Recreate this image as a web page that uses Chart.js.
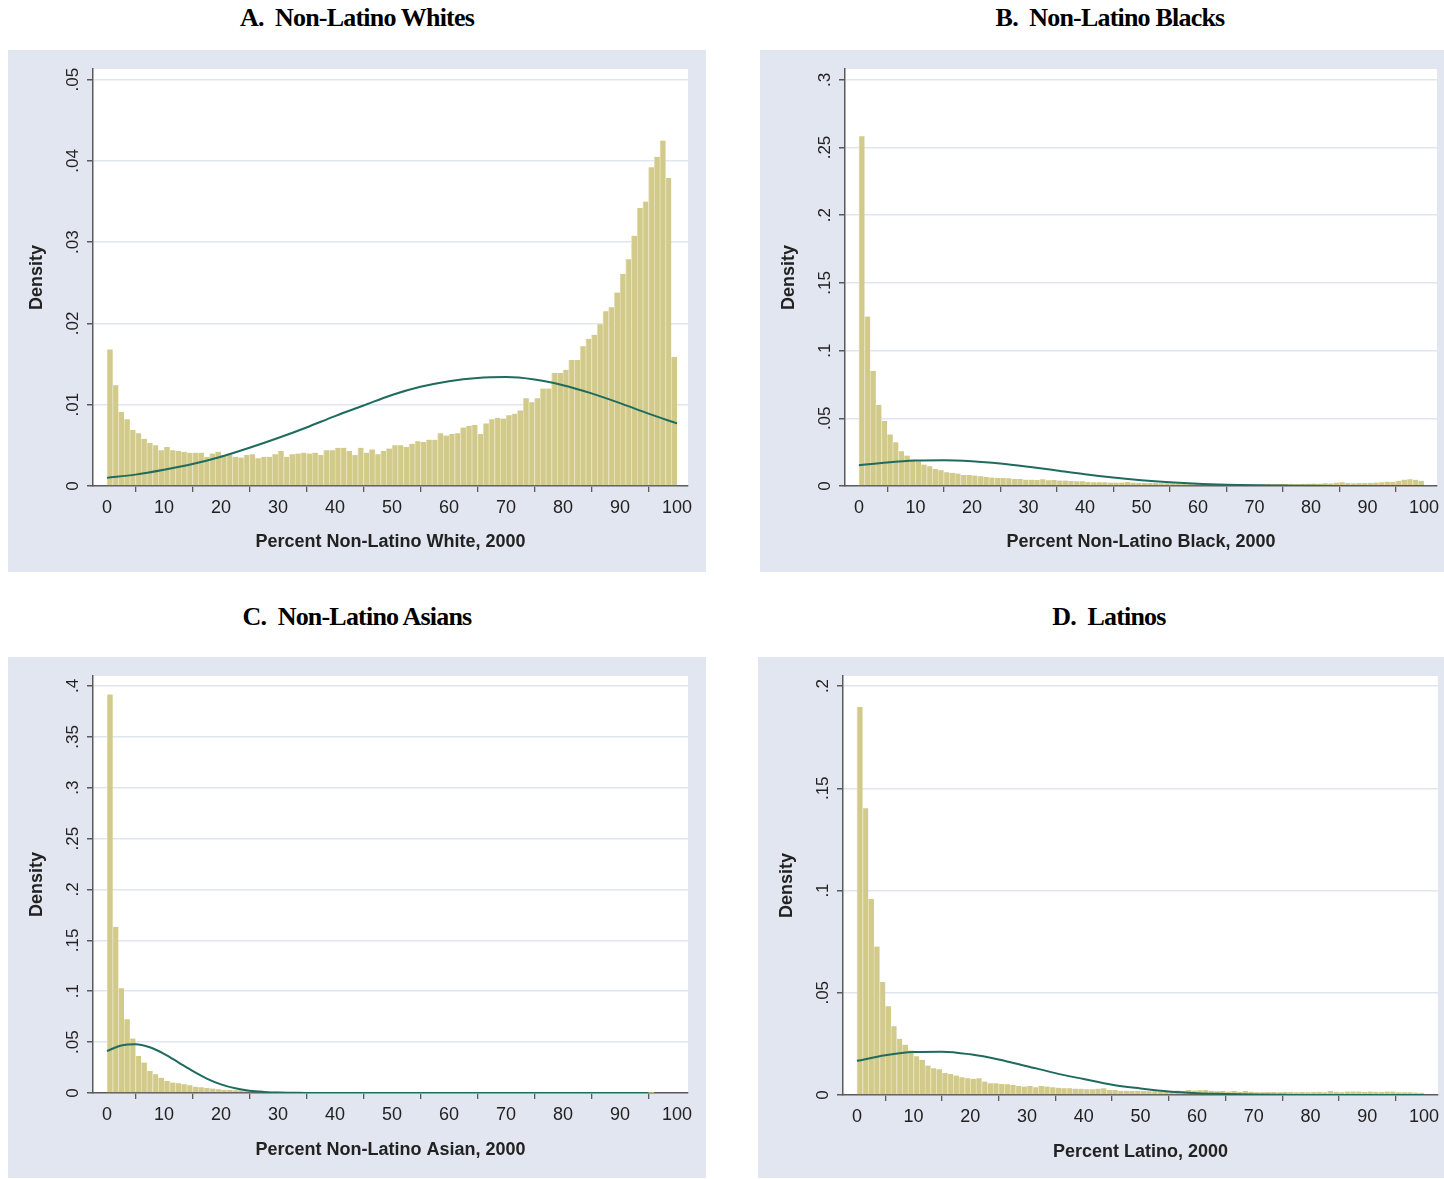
<!DOCTYPE html>
<html>
<head>
<meta charset="utf-8">
<script src="https://cdn.jsdelivr.net/npm/chart.js@4.4.1/dist/chart.umd.min.js"></script>
<style>
  html, body { margin: 0; padding: 0; background: #ffffff; }
  body { width: 1444px; height: 1179px; position: relative; overflow: hidden; }
  .panel { position: absolute; background: #e1e6f0; }
  .ptitle { position: absolute; font-family: "Liberation Serif", "Times New Roman", serif; font-weight: bold;
            font-size: 26px; letter-spacing: -0.8px; white-space: pre; transform: translateX(-50%); color: #000;
            line-height: 30px; }
</style>
</head>
<body>
<div class="ptitle" style="left:357px; top:3px;">A.  Non-Latino Whites</div>
<div class="ptitle" style="left:1110px; top:3px;">B.  Non-Latino Blacks</div>
<div class="ptitle" style="left:357px; top:602px;">C.  Non-Latino Asians</div>
<div class="ptitle" style="left:1109px; top:602px;">D.  Latinos</div>

<div class="panel" style="left:8px; top:50px; width:698px; height:522px;"><canvas id="cA"></canvas></div>
<div class="panel" style="left:760px; top:50px; width:684px; height:522px;"><canvas id="cB"></canvas></div>
<div class="panel" style="left:8px; top:657px; width:698px; height:521px;"><canvas id="cC"></canvas></div>
<div class="panel" style="left:758px; top:657px; width:686px; height:521px;"><canvas id="cD"></canvas></div>

<script>
// ---------- DATA ----------
// Histogram bins: 1 percentage point wide, bin i covers [i, i+1)
const binStarts = Array.from({length: 100}, (_, i) => i);

const whiteDensity = [
  0.0168, 0.0124, 0.0091, 0.0082, 0.0069, 0.0065, 0.0058, 0.0053, 0.0050, 0.0044,
  0.0048, 0.0044, 0.0043, 0.0042, 0.0041, 0.0041, 0.0041, 0.0036, 0.0040, 0.0042,
  0.0038, 0.0039, 0.0036, 0.0035, 0.0038, 0.0039, 0.0034, 0.0036, 0.0036, 0.0039,
  0.0043, 0.0036, 0.0039, 0.0040, 0.0041, 0.0040, 0.0041, 0.0038, 0.0044, 0.0044,
  0.0047, 0.0047, 0.0043, 0.0038, 0.0047, 0.0041, 0.0045, 0.0039, 0.0043, 0.0046,
  0.0050, 0.0050, 0.0048, 0.0052, 0.0055, 0.0054, 0.0057, 0.0057, 0.0065, 0.0062,
  0.0064, 0.0065, 0.0072, 0.0074, 0.0075, 0.0064, 0.0077, 0.0082, 0.0084, 0.0083,
  0.0087, 0.0089, 0.0093, 0.0108, 0.0103, 0.0108, 0.0120, 0.0120, 0.0139, 0.0139,
  0.0143, 0.0155, 0.0155, 0.0172, 0.0181, 0.0186, 0.0199, 0.0215, 0.0220, 0.0238,
  0.0261, 0.0279, 0.0308, 0.0342, 0.0350, 0.0392, 0.0405, 0.0425, 0.0379, 0.0159
];

const blackDensity = [
  0.2584, 0.1252, 0.0851, 0.0599, 0.0480, 0.0381, 0.0324, 0.0257, 0.0225, 0.0196,
  0.0183, 0.0158, 0.0146, 0.0126, 0.0116, 0.0101, 0.0097, 0.0092, 0.0082, 0.0082,
  0.0077, 0.0072, 0.0067, 0.0062, 0.0059, 0.0059, 0.0057, 0.0052, 0.0052, 0.0047,
  0.0047, 0.0045, 0.0050, 0.0042, 0.0044, 0.0040, 0.0040, 0.0037, 0.0035, 0.0035,
  0.0030, 0.0028, 0.0027, 0.0027, 0.0026, 0.0026, 0.0025, 0.0030, 0.0025, 0.0024,
  0.0023, 0.0022, 0.0022, 0.0021, 0.0020, 0.0020, 0.0019, 0.0019, 0.0018, 0.0018,
  0.0017, 0.0017, 0.0016, 0.0016, 0.0016, 0.0015, 0.0015, 0.0015, 0.0015, 0.0014,
  0.0014, 0.0014, 0.0015, 0.0015, 0.0014, 0.0015, 0.0016, 0.0015, 0.0016, 0.0017,
  0.0018, 0.0017, 0.0020, 0.0019, 0.0026, 0.0028, 0.0022, 0.0021, 0.0022, 0.0023,
  0.0024, 0.0025, 0.0027, 0.0032, 0.0030, 0.0038, 0.0047, 0.0050, 0.0046, 0.0038
];

const asianDensity = [
  0.3917, 0.1634, 0.1030, 0.0725, 0.0535, 0.0364, 0.0299, 0.0217, 0.0184, 0.0151,
  0.0118, 0.0102, 0.0095, 0.0085, 0.0075, 0.0062, 0.0056, 0.0049, 0.0043, 0.0036,
  0.0033, 0.0030, 0.0028, 0.0026, 0.0023, 0.0021, 0.0019, 0.0017, 0.0015, 0.0014,
  0.0013, 0.0012, 0.0011, 0.0010, 0.0009, 0.0009, 0.0008, 0.0007, 0.0007, 0.0006,
  0.0006, 0.0005, 0.0005, 0.0005, 0.0005, 0.0004, 0.0004, 0.0004, 0.0004, 0.0004,
  0.0003, 0.0003, 0.0003, 0.0003, 0.0003, 0.0003, 0.0003, 0.0003, 0.0003, 0.0003,
  0.0002, 0.0002, 0.0002, 0.0002, 0.0002, 0.0002, 0.0002, 0.0002, 0.0002, 0.0002,
  0.0002, 0.0002, 0.0002, 0.0002, 0.0002, 0.0001, 0.0001, 0.0001, 0.0001, 0.0001,
  0.0001, 0.0001, 0.0001, 0.0001, 0.0001, 0.0001, 0.0001, 0.0001, 0.0001, 0.0001,
  0.0001, 0.0001, 0.0001, 0.0001, 0.0001, 0.0001, 0, 0, 0, 0
];

const latinoDensity = [
  0.1897, 0.1402, 0.0959, 0.0726, 0.0552, 0.0434, 0.0336, 0.0275, 0.0246, 0.0218,
  0.0189, 0.0172, 0.0144, 0.0131, 0.0126, 0.0107, 0.0103, 0.0095, 0.0087, 0.0082,
  0.0079, 0.0082, 0.0066, 0.0057, 0.0057, 0.0054, 0.0052, 0.0049, 0.0044, 0.0041,
  0.0044, 0.0038, 0.0044, 0.0041, 0.0038, 0.0036, 0.0033, 0.0033, 0.0031, 0.0031,
  0.0028, 0.0028, 0.0031, 0.0033, 0.0025, 0.0025, 0.0021, 0.0021, 0.0020, 0.0020,
  0.0019, 0.0018, 0.0018, 0.0017, 0.0018, 0.0017, 0.0022, 0.0020, 0.0024, 0.0022,
  0.0023, 0.0024, 0.0021, 0.0018, 0.0020, 0.0017, 0.0019, 0.0016, 0.0020, 0.0016,
  0.0014, 0.0014, 0.0015, 0.0015, 0.0014, 0.0015, 0.0015, 0.0014, 0.0015, 0.0014,
  0.0015, 0.0016, 0.0014, 0.0020, 0.0016, 0.0014, 0.0017, 0.0017, 0.0017, 0.0015,
  0.0017, 0.0016, 0.0015, 0.0017, 0.0017, 0.0013, 0.0014, 0.0013, 0.0012, 0.0011
];

// Overlaid normal density curves
const curveX5 = [0, 5, 10, 15, 20, 25, 30, 35, 40, 45, 50, 55, 60, 65, 70, 75, 80, 85, 90, 95, 100];
const whiteCurve = [0.0010, 0.0014, 0.0020, 0.0027, 0.0036, 0.0047, 0.0059, 0.0072, 0.0086, 0.0099, 0.0112,
                    0.0122, 0.0129, 0.0133, 0.0134, 0.0131, 0.0124, 0.0114, 0.0102, 0.0089, 0.0077];
const blackCurve = [0.0153, 0.0174, 0.0188, 0.0191, 0.0183, 0.0166, 0.0142, 0.0115, 0.0087, 0.0063, 0.0043,
                    0.0028, 0.0017, 0.0010, 0.0005, 0.0003, 0.0001, 0.0000, 0.0000, 0.0000, 0.0000];
const latinoCurve = [0.0167, 0.0194, 0.0210, 0.0212, 0.0199, 0.0174, 0.0141, 0.0107, 0.0078, 0.0050, 0.0032,
                     0.0017, 0.0009, 0.0005, 0.0002, 0.0001, 0.0000, 0.0000, 0.0000, 0.0000, 0.0000];
const asianCurveX = [0, 2.5, 5, 7.5, 10, 12.5, 15, 17.5, 20, 22.5, 25, 27.5, 30, 35, 40, 45, 50, 55, 60, 65, 70, 75, 80, 85, 90, 95];
const asianCurve  = [0.0413, 0.0466, 0.0478, 0.0449, 0.0385, 0.0302, 0.0217, 0.0142, 0.0085, 0.0046, 0.0023, 0.0011, 0.0004,
                     0.0001, 0, 0, 0, 0, 0, 0, 0, 0, 0, 0, 0, 0];

// Tick values and labels
const xTickValues = [0, 10, 20, 30, 40, 50, 60, 70, 80, 90, 100];
const xTickLabels = ['0', '10', '20', '30', '40', '50', '60', '70', '80', '90', '100'];
const yTicksA = [0, 0.01, 0.02, 0.03, 0.04, 0.05];
const yLabelsA = ['0', '.01', '.02', '.03', '.04', '.05'];
const yTicksB = [0, 0.05, 0.1, 0.15, 0.2, 0.25, 0.3];
const yLabelsB = ['0', '.05', '.1', '.15', '.2', '.25', '.3'];
const yTicksC = [0, 0.05, 0.1, 0.15, 0.2, 0.25, 0.3, 0.35, 0.4];
const yLabelsC = ['0', '.05', '.1', '.15', '.2', '.25', '.3', '.35', '.4'];
const yTicksD = [0, 0.05, 0.1, 0.15, 0.2];
const yLabelsD = ['0', '.05', '.1', '.15', '.2'];

const xTitles = ['Percent Non-Latino White, 2000', 'Percent Non-Latino Black, 2000',
                 'Percent Non-Latino Asian, 2000', 'Percent Latino, 2000'];

// ---------- STYLE / BUILD ----------
const BAR_FILL = '#d1ca8a';
const BAR_EDGE = '#e6e2b9';
const LINE_COL = '#1f6b5e';
const GRID_COL = '#e0e5ef';
const AXIS_COL = '#5a5a5a';
const SANS = '"Liberation Sans", Arial, sans-serif';

const whitePlotBg = {
  id: 'whitePlotBg',
  beforeDraw(chart) {
    const a = chart.chartArea, ctx = chart.ctx;
    ctx.save();
    ctx.fillStyle = '#ffffff';
    ctx.fillRect(a.left, a.top, a.right - a.left, a.bottom - a.top);
    ctx.restore();
  }
};

function makePanel(id, o) {
  const bars = binStarts.map((b, i) => ({ x: b + 0.5, y: o.hist[i] }));
  const line = o.curveX.map((x, i) => ({ x: x, y: o.curve[i] }));
  new Chart(document.getElementById(id), {
    data: {
      datasets: [
        { type: 'line', data: line, borderColor: LINE_COL, borderWidth: 2, pointRadius: 0,
          cubicInterpolationMode: 'monotone', fill: false, order: 0 },
        { type: 'bar', data: bars, backgroundColor: BAR_FILL, borderColor: BAR_EDGE,
          borderWidth: { left: 1, top: 0, right: 0, bottom: 0 }, borderSkipped: false,
          barPercentage: 1, categoryPercentage: 1, order: 1 }
      ]
    },
    options: {
      responsive: true, maintainAspectRatio: false, animation: false,
      layout: { padding: { left: 0, top: o.top, right: o.right, bottom: 0 } },
      plugins: { legend: { display: false }, tooltip: { enabled: false } },
      scales: {
        x: {
          type: 'linear', min: o.xmin, max: o.xmax, offset: false,
          afterBuildTicks: s => { s.ticks = xTickValues.map(v => ({ value: v })); },
          afterFit: s => { s.height = o.xh; },
          ticks: { autoSkip: false, maxRotation: 0, minRotation: 0, padding: 5, color: '#222',
                   font: { family: SANS, size: 18 }, callback: (v, i) => xTickLabels[i] },
          grid: { display: true, drawOnChartArea: false, drawTicks: true, tickLength: 6,
                  tickColor: AXIS_COL, lineWidth: 1.3 },
          border: { display: true, color: AXIS_COL, width: 1.5 },
          title: { display: true, text: o.xtitle, color: '#222',
                   font: { family: SANS, size: 18, weight: 'bold' }, padding: { top: 0, bottom: o.tpad } }
        },
        y: {
          type: 'linear', min: 0, max: o.ymax,
          afterBuildTicks: s => { s.ticks = o.yTicks.map(v => ({ value: v })); },
          afterFit: s => { s.width = 85; },
          ticks: { minRotation: 90, maxRotation: 90, crossAlign: 'center', padding: 2, color: '#222',
                   font: { family: SANS, size: 17 }, callback: (v, i) => o.yLabels[i] },
          grid: { color: GRID_COL, lineWidth: 1.5, drawTicks: true, tickLength: 6, tickColor: AXIS_COL },
          border: { display: true, color: AXIS_COL, width: 1.5 },
          title: { display: true, text: 'Density', color: '#222',
                   font: { family: SANS, size: 18, weight: 'bold' }, padding: { top: 18, bottom: 0 } }
        }
      }
    },
    plugins: [whitePlotBg]
  });
}

makePanel('cA', { hist: whiteDensity, curveX: curveX5, curve: whiteCurve, xtitle: xTitles[0],
  yTicks: yTicksA, yLabels: yLabelsA, ymax: 0.0513, xmin: -2.456, xmax: 101.93, top: 19, right: 18, xh: 86, tpad: 19 });
makePanel('cB', { hist: blackDensity, curveX: curveX5, curve: blackCurve, xtitle: xTitles[1],
  yTicks: yTicksB, yLabels: yLabelsB, ymax: 0.308, xmin: -2.46, xmax: 102.3, top: 19, right: 3, xh: 86, tpad: 19 });
makePanel('cC', { hist: asianDensity, curveX: asianCurveX, curve: asianCurve, xtitle: xTitles[2],
  yTicks: yTicksC, yLabels: yLabelsC, ymax: 0.4098, xmin: -2.456, xmax: 101.93, top: 19, right: 18, xh: 85, tpad: 17 });
makePanel('cD', { hist: latinoDensity, curveX: curveX5, curve: latinoCurve, xtitle: xTitles[3],
  yTicks: yTicksD, yLabels: yLabelsD, ymax: 0.2049, xmin: -2.456, xmax: 102.46, top: 19, right: 3, xh: 83, tpad: 15 });
</script>
</body>
</html>
